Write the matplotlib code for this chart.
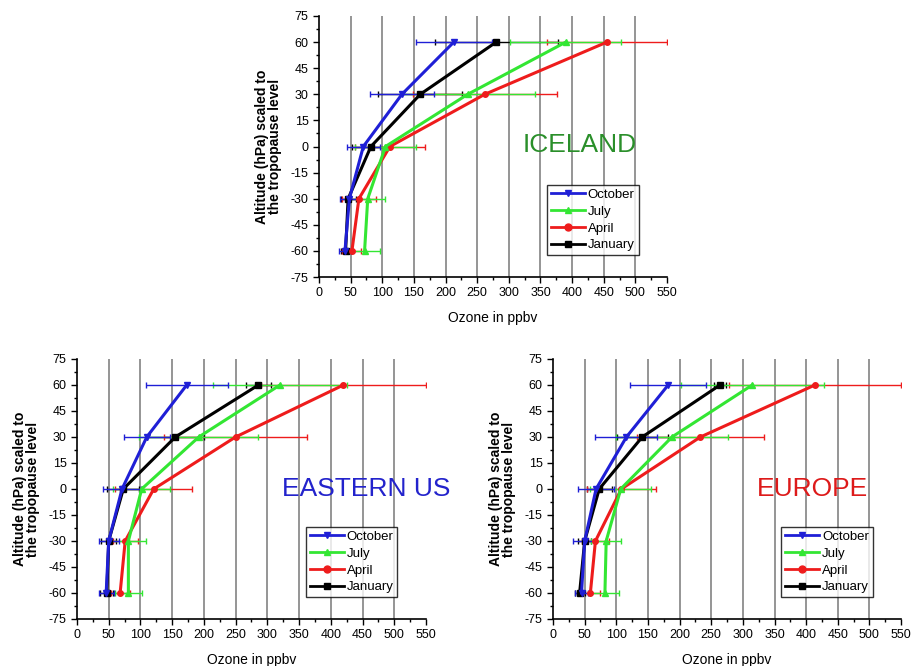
import matplotlib
matplotlib.use("Agg")
import matplotlib.pyplot as plt
from matplotlib.ticker import MultipleLocator

plt.rcParams["font.family"] = ["Liberation Sans", "DejaVu Sans"]
plt.rcParams["axes.unicode_minus"] = False

levels = [60, 30, 0, -30, -60]
months = ["October", "July", "April", "January"]

# Iceland
iceland_oct = [213, 131, 70, 48, 41]
iceland_oct_err = [60, 50, 26, 15, 10]
iceland_jul = [390, 235, 105, 77, 72]
iceland_jul_err = [88, 107, 48, 28, 24]
iceland_apr = [455, 262, 112, 63, 52]
iceland_apr_err = [95, 114, 55, 27, 15]
iceland_jan = [280, 160, 82, 46, 42]
iceland_jan_err = [97, 66, 30, 12, 8]

# Eastern US
eus_oct = [173, 110, 71, 50, 46]
eus_oct_err = [65, 36, 30, 16, 12]
eus_jul = [320, 192, 102, 81, 81]
eus_jul_err = [105, 94, 45, 28, 21]
eus_apr = [420, 250, 121, 76, 68]
eus_apr_err = [130, 113, 61, 20, 15]
eus_jan = [286, 155, 73, 50, 47]
eus_jan_err = [20, 45, 25, 12, 10]

# Europe
eur_oct = [182, 116, 68, 50, 45]
eur_oct_err = [60, 49, 28, 18, 10]
eur_jul = [315, 188, 107, 84, 82]
eur_jul_err = [113, 88, 48, 24, 23]
eur_apr = [414, 233, 108, 67, 59]
eur_apr_err = [136, 101, 54, 22, 15]
eur_jan = [264, 141, 73, 50, 42]
eur_jan_err = [10, 40, 20, 10, 8]

colors = {"October": "#1f1fd6", "July": "#33e633", "April": "#ee1c1c", "January": "#000000"}
markers = {"October": "v", "July": "^", "April": "o", "January": "s"}

panels = [
    ("ICELAND", "#2a8f2a", (412, 1),
     {"October": (iceland_oct, iceland_oct_err), "July": (iceland_jul, iceland_jul_err),
      "April": (iceland_apr, iceland_apr_err), "January": (iceland_jan, iceland_jan_err)},
     [0.3498, 0.584, 0.3816, 0.392]),
    ("EASTERN US", "#2323cc", (455, 0),
     {"October": (eus_oct, eus_oct_err), "July": (eus_jul, eus_jul_err),
      "April": (eus_apr, eus_apr_err), "January": (eus_jan, eus_jan_err)},
     [0.0844, 0.0706, 0.3827, 0.3904]),
    ("EUROPE", "#dd1a1a", (410, 0),
     {"October": (eur_oct, eur_oct_err), "July": (eur_jul, eur_jul_err),
      "April": (eur_apr, eur_apr_err), "January": (eur_jan, eur_jan_err)},
     [0.6064, 0.0706, 0.3816, 0.3904]),
]

fig = plt.figure(figsize=(9.12, 6.66), dpi=100)

for name, name_color, name_pos, series, rect in panels:
    ax = fig.add_axes(rect)
    for x in range(50, 501, 50):
        ax.axvline(x, color="#8c8c8c", linewidth=1.3, zorder=0)

    handles = []
    for month in ["January", "April", "July", "October"]:
        vals, errs = series[month]
        c = colors[month]
        ax.errorbar(vals, levels, xerr=errs, fmt="none", ecolor=c, elinewidth=1.0,
                    capsize=2.5, capthick=1.0, zorder=2, clip_on=True)
        ax.plot(vals, levels, color=c, linewidth=2.2, marker=markers[month],
                markersize=4, zorder=3)
    for month in months:
        h, = ax.plot([], [], color=colors[month], linewidth=2.0, marker=markers[month],
                     markersize=5)
        handles.append(h)

    ax.set_xlim(0, 550)
    ax.set_ylim(-75, 75)
    ax.xaxis.set_major_locator(MultipleLocator(50))
    ax.xaxis.set_minor_locator(MultipleLocator(25))
    ax.yaxis.set_major_locator(MultipleLocator(15))
    ax.yaxis.set_minor_locator(MultipleLocator(7.5))
    ax.tick_params(which="major", direction="out", length=4, width=1, labelsize=9)
    ax.tick_params(which="minor", direction="out", length=2.5, width=1)
    ax.spines["top"].set_visible(False)
    ax.spines["right"].set_visible(False)
    ax.spines["left"].set_linewidth(1.2)
    ax.spines["bottom"].set_linewidth(1.2)

    ax.set_xlabel("Ozone in ppbv", fontsize=10, labelpad=8)
    ax.set_ylabel("Altitude (hPa) scaled to\nthe tropopause level", fontsize=10,
                  fontweight="bold", labelpad=6, linespacing=0.95)

    ax.text(name_pos[0], name_pos[1], name, color=name_color, fontsize=19,
            ha="center", va="center", clip_on=False)

    leg = ax.legend(handles, months, loc="lower left", bbox_to_anchor=(0.655, 0.083),
                    fontsize=9.5, frameon=True, fancybox=False, edgecolor="black",
                    handlelength=2.6, handletextpad=0.2, labelspacing=0.35,
                    borderpad=0.3, borderaxespad=0)
    leg.get_frame().set_linewidth(1.0)

fig.savefig("out.png", dpi=100)
